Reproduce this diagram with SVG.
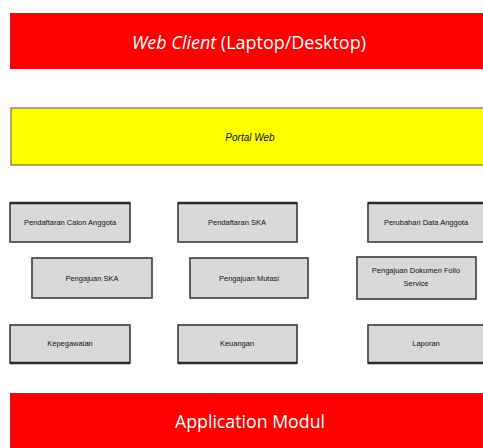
<svg xmlns="http://www.w3.org/2000/svg" width="483" height="448" viewBox="0 0 483 448">
<style>
.bar{fill:#ff0000}
.box{fill:#d9d9d9;stroke:#3a3a3a;stroke-width:1.6}
.edge{stroke:#2a2a2a;stroke-width:2.4}
.lbl{font-family:"Liberation Sans",Arial,sans-serif;font-size:7.5px;fill:#111;text-anchor:middle}
.big{font-family:"Open Sans","Liberation Sans",sans-serif;fill:#ffffff;text-anchor:middle}
</style>
<rect width="483" height="448" fill="#ffffff"/>
<g id="web-client">
<rect class="bar" x="10" y="13" width="473" height="56"/>
<text class="big" x="249" y="49" font-size="19" textLength="234" lengthAdjust="spacingAndGlyphs"><tspan font-style="italic">Web Client</tspan> (Laptop/Desktop)</text>
</g>
<g id="portal-web">
<rect x="11" y="108" width="473" height="57" fill="#ffff00" stroke="#555" stroke-width="1"/>
<text x="250" y="141" font-family="Liberation Sans,Arial,sans-serif" font-size="10" font-style="italic" fill="#111" text-anchor="middle">Portal Web</text>
</g>
<g id="n1"><rect class="box" x="10" y="203" width="120" height="39"/><line class="edge" x1="10" y1="203" x2="130" y2="203"/><text class="lbl" x="70" y="225">Pendaftaran Calon Anggota</text></g>
<g id="n2"><rect class="box" x="178" y="203" width="119" height="39"/><line class="edge" x1="178" y1="203" x2="297" y2="203"/><text class="lbl" x="237" y="225">Pendaftaran SKA</text></g>
<g id="n3"><rect class="box" x="368" y="203" width="120" height="39"/><line class="edge" x1="368" y1="203" x2="483" y2="203"/><text class="lbl" x="426" y="225">Perubahan Data Anggota</text></g>
<g id="n4"><rect class="box" x="32" y="258" width="120" height="40"/><text class="lbl" x="92" y="281">Pengajuan SKA</text></g>
<g id="n5"><rect class="box" x="190" y="258" width="118" height="40"/><text class="lbl" x="249" y="281">Pengajuan Mutasi</text></g>
<g id="n6"><rect class="box" x="357" y="257" width="119" height="42"/><text class="lbl" x="416" y="273">Pengajuan Dokumen Folio</text><text class="lbl" x="416" y="286">Service</text></g>
<g id="n7"><rect class="box" x="10" y="325" width="120" height="38"/><line class="edge" x1="10" y1="363" x2="130" y2="363"/><text class="lbl" x="70" y="346">Kepegawaian</text></g>
<g id="n8"><rect class="box" x="178" y="325" width="119" height="38"/><line class="edge" x1="178" y1="363" x2="297" y2="363"/><text class="lbl" x="237" y="346">Keuangan</text></g>
<g id="n9"><rect class="box" x="368" y="325" width="120" height="38"/><line class="edge" x1="368" y1="363" x2="483" y2="363"/><text class="lbl" x="426" y="346">Laporan</text></g>
<g id="application-modul">
<rect class="bar" x="10" y="393" width="473" height="55"/>
<text class="big" x="250" y="428" font-size="19" textLength="150" lengthAdjust="spacingAndGlyphs">Application Modul</text>
</g>
<g id="connectors"/>
</svg>
